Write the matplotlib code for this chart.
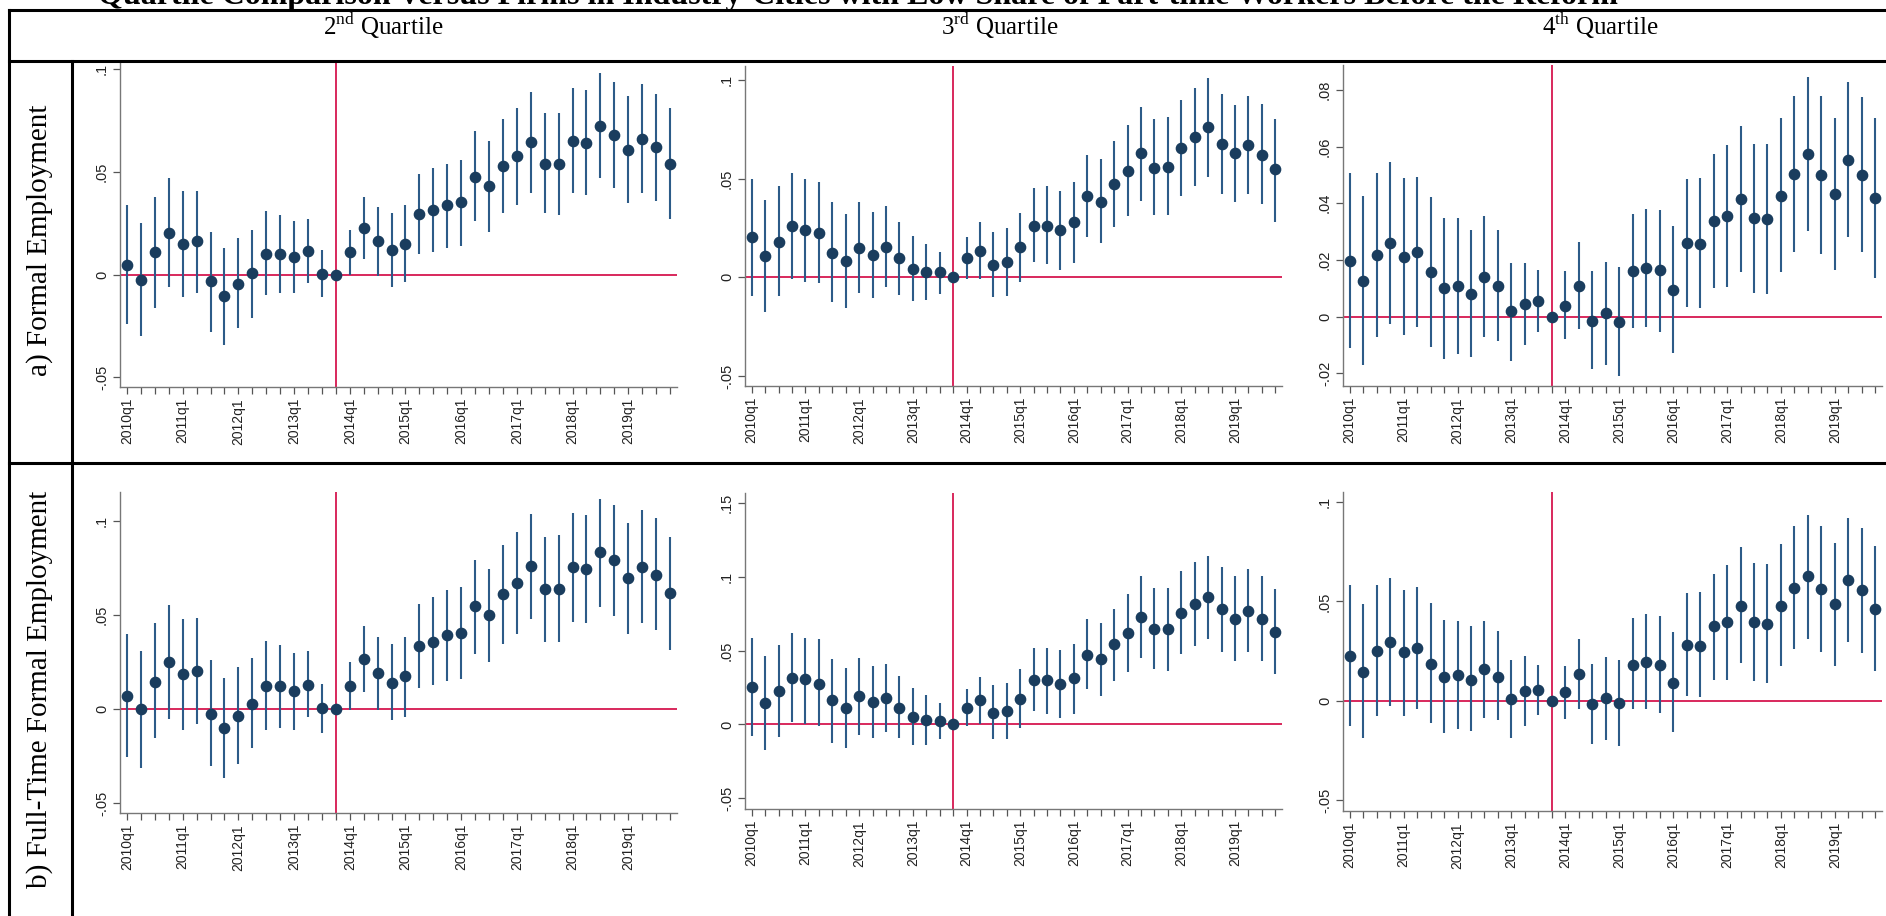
# event-study grid: quartile comparison, formal / full-time formal employment
import matplotlib
matplotlib.use('Agg')
import matplotlib.pyplot as plt
from matplotlib.lines import Line2D

plt.rcParams['font.family'] = ['Liberation Sans', 'DejaVu Sans']
plt.rcParams['mathtext.fontset'] = 'custom'
plt.rcParams['mathtext.rm'] = 'Liberation Serif'

# quarters 2010q1 .. 2019q4, reform reference quarter 2013q4 (index 15)
years = [2010, 2011, 2012, 2013, 2014, 2015, 2016, 2017, 2018, 2019]
quarters = [f'{y}q{q}' for y in years for q in (1, 2, 3, 4)]
ref_idx = 15

col_headers = ['2$^{\\mathrm{nd}}$ Quartile', '3$^{\\mathrm{rd}}$ Quartile', '4$^{\\mathrm{th}}$ Quartile']
row_labels = ['a) Formal Employment', 'b) Full-Time Formal Employment']
title = ('Quartile Comparison Versus Firms in Industry-Cities with Low Share '
         'of Part-time Workers Before the Reform')

# a) formal employment, 2nd quartile
fe_q2_b = [0.0049, -0.0024, 0.0110, 0.0203, 0.0149, 0.0162, -0.0032, -0.0106, -0.0044, 0.0006,
           0.0101, 0.0101, 0.0086, 0.0115, 0.0003, 0.0, 0.0110, 0.0227, 0.0162, 0.0119,
           0.0151, 0.0297, 0.0313, 0.0338, 0.0354, 0.0476, 0.0434, 0.0531, 0.0576, 0.0644,
           0.0539, 0.0539, 0.0649, 0.0641, 0.0724, 0.0682, 0.0609, 0.0662, 0.0622, 0.0539]
fe_q2_hi = [0.034, 0.025, 0.038, 0.047, 0.041, 0.041, 0.021, 0.013, 0.018, 0.022,
            0.031, 0.029, 0.026, 0.027, 0.012, 0.0, 0.022, 0.038, 0.033, 0.030,
            0.034, 0.049, 0.052, 0.054, 0.056, 0.070, 0.065, 0.076, 0.081, 0.089,
            0.079, 0.079, 0.091, 0.090, 0.098, 0.094, 0.087, 0.093, 0.088, 0.081]
fe_q2_lo = [-0.024, -0.030, -0.016, -0.006, -0.011, -0.009, -0.028, -0.034, -0.026, -0.021,
            -0.010, -0.009, -0.009, -0.004, -0.011, 0.0, -0.0003, 0.0076, -0.0008, -0.006,
            -0.0036, 0.010, 0.011, 0.013, 0.014, 0.026, 0.021, 0.030, 0.034, 0.040,
            0.030, 0.029, 0.040, 0.039, 0.047, 0.042, 0.035, 0.040, 0.036, 0.027]

# a) formal employment, 3rd quartile
fe_q3_b = [0.0203, 0.0107, 0.018, 0.026, 0.024, 0.0225, 0.0124, 0.0081, 0.015, 0.0112,
           0.0154, 0.0095, 0.0044, 0.0025, 0.0025, 0.0, 0.0098, 0.0135, 0.0061, 0.0078,
           0.0152, 0.026, 0.026, 0.024, 0.028, 0.041, 0.038, 0.047, 0.054, 0.063,
           0.0555, 0.0559, 0.0657, 0.071, 0.076, 0.0677, 0.063, 0.067, 0.062, 0.0547]
fe_q3_hi = [0.050, 0.039, 0.046, 0.053, 0.050, 0.048, 0.038, 0.032, 0.038, 0.033,
            0.036, 0.028, 0.021, 0.017, 0.0129, 0.0, 0.0205, 0.028, 0.023, 0.025,
            0.0327, 0.045, 0.046, 0.0437, 0.048, 0.062, 0.060, 0.069, 0.077, 0.086,
            0.080, 0.081, 0.090, 0.096, 0.101, 0.093, 0.087, 0.092, 0.088, 0.080]
fe_q3_lo = [-0.0093, -0.0178, -0.0097, -0.0008, -0.0025, -0.003, -0.0127, -0.0156, -0.008, -0.0105,
            -0.0051, -0.0091, -0.0122, -0.0117, -0.0083, 0.0, -0.0008, -0.0008, -0.010, -0.0093,
            -0.0024, 0.0078, 0.0069, 0.0039, 0.0073, 0.0203, 0.0174, 0.0256, 0.031, 0.0386,
            0.0315, 0.0315, 0.041, 0.046, 0.051, 0.042, 0.038, 0.042, 0.037, 0.028]

# a) formal employment, 4th quartile
fe_q4_b = [0.0196, 0.0126, 0.0218, 0.0261, 0.0209, 0.0229, 0.0156, 0.0100, 0.0109, 0.0080,
           0.0141, 0.0109, 0.0018, 0.0045, 0.0056, 0.0, 0.0039, 0.0109, -0.0014, 0.0012,
           -0.0018, 0.0161, 0.0171, 0.0165, 0.0094, 0.0261, 0.0256, 0.0338, 0.0355, 0.0415,
           0.0347, 0.0343, 0.0427, 0.0503, 0.0574, 0.0501, 0.0433, 0.0553, 0.0500, 0.0418]
fe_q4_hi = [0.0506, 0.0424, 0.0508, 0.0547, 0.0488, 0.0494, 0.0421, 0.0349, 0.0347, 0.0306,
            0.0356, 0.0306, 0.0188, 0.0188, 0.0165, 0.0, 0.0161, 0.0262, 0.0162, 0.0192,
            0.0176, 0.0362, 0.0379, 0.0376, 0.0318, 0.0486, 0.0488, 0.0574, 0.0606, 0.0673,
            0.0609, 0.0609, 0.0700, 0.0779, 0.0847, 0.0780, 0.0702, 0.0829, 0.0774, 0.0700]
fe_q4_lo = [-0.0112, -0.0171, -0.0071, -0.0026, -0.0065, -0.0038, -0.0108, -0.0151, -0.0132, -0.0143,
            -0.0073, -0.0085, -0.0155, -0.0102, -0.0053, 0.0, -0.0079, -0.0044, -0.0186, -0.0171,
            -0.0209, -0.0039, -0.0035, -0.0053, -0.0127, 0.0035, 0.0032, 0.0100, 0.0106, 0.0159,
            0.0085, 0.0079, 0.0159, 0.0229, 0.0303, 0.0221, 0.0165, 0.0280, 0.0227, 0.0135]

# b) full-time formal employment, 2nd quartile
ft_q2_b = [0.0069, 0.0, 0.0144, 0.0252, 0.0186, 0.0202, -0.0027, -0.0103, -0.0037, 0.0027,
           0.0124, 0.0124, 0.0098, 0.0131, 0.0004, 0.0, 0.0122, 0.0266, 0.0193, 0.014,
           0.0176, 0.0337, 0.0358, 0.0394, 0.0406, 0.0548, 0.05, 0.0615, 0.0674, 0.0762,
           0.0638, 0.0642, 0.0757, 0.0745, 0.0837, 0.0793, 0.0699, 0.0757, 0.0716, 0.0619]
ft_q2_hi = [0.040, 0.031, 0.0456, 0.0557, 0.0482, 0.0486, 0.0264, 0.0167, 0.0225, 0.0273,
            0.0363, 0.0344, 0.0301, 0.0308, 0.0133, 0.0, 0.0252, 0.0443, 0.0385, 0.0346,
            0.0385, 0.0562, 0.0598, 0.0633, 0.0651, 0.0796, 0.0748, 0.0872, 0.0943, 0.1041,
            0.0917, 0.0926, 0.1044, 0.1032, 0.1121, 0.1085, 0.0993, 0.1059, 0.102, 0.0917]
ft_q2_lo = [-0.0254, -0.0316, -0.0156, -0.005, -0.0112, -0.008, -0.0303, -0.0369, -0.0293, -0.0209,
            -0.0112, -0.0098, -0.0112, -0.0044, -0.0129, 0.0, -0.0005, 0.0092, -0.0005, -0.0059,
            -0.0041, 0.011, 0.0128, 0.0151, 0.0158, 0.0296, 0.0252, 0.0349, 0.0402, 0.0482,
            0.0358, 0.0358, 0.0465, 0.0456, 0.0544, 0.0495, 0.0402, 0.0459, 0.042, 0.0314]

# b) full-time formal employment, 3rd quartile
ft_q3_b = [0.0255, 0.0142, 0.0226, 0.0316, 0.0305, 0.0276, 0.0163, 0.0108, 0.0192, 0.0151,
           0.0176, 0.0113, 0.0052, 0.0029, 0.0023, 0.0, 0.0113, 0.0163, 0.0079, 0.009,
           0.0174, 0.0301, 0.0301, 0.0271, 0.0312, 0.047, 0.0441, 0.0542, 0.0622, 0.0728,
           0.0644, 0.0644, 0.0753, 0.0818, 0.0863, 0.078, 0.0716, 0.0768, 0.0716, 0.0628]
ft_q3_hi = [0.0588, 0.0463, 0.0536, 0.0622, 0.0588, 0.0576, 0.0445, 0.0384, 0.0452, 0.0396,
            0.0407, 0.0328, 0.0249, 0.0197, 0.0147, 0.0, 0.0237, 0.0323, 0.0264, 0.0282,
            0.0377, 0.052, 0.052, 0.0502, 0.0542, 0.0712, 0.0685, 0.0784, 0.0881, 0.1006,
            0.0922, 0.0922, 0.104, 0.11, 0.1141, 0.1069, 0.1006, 0.1051, 0.1006, 0.092]
ft_q3_lo = [-0.0079, -0.0174, -0.0086, 0.0018, 0.0005, -0.0011, -0.0124, -0.0158, -0.0072, -0.009,
            -0.005, -0.0095, -0.0142, -0.0136, -0.0097, 0.0, -0.0011, 0.0, -0.0097, -0.0097,
            -0.0027, 0.009, 0.0068, 0.0045, 0.0072, 0.0237, 0.0192, 0.0294, 0.0357, 0.0452,
            0.0373, 0.0362, 0.0475, 0.0531, 0.0576, 0.049, 0.0429, 0.049, 0.0429, 0.0339]

# b) full-time formal employment, 4th quartile
ft_q4_b = [0.0226, 0.0147, 0.0253, 0.0295, 0.0243, 0.0265, 0.0186, 0.0119, 0.0131, 0.0106,
           0.0161, 0.0122, 0.001, 0.0047, 0.0055, 0.0, 0.0042, 0.0136, -0.0015, 0.0013,
           -0.0012, 0.0181, 0.0193, 0.0181, 0.0092, 0.0282, 0.0278, 0.0374, 0.0395, 0.0478,
           0.0395, 0.0387, 0.0478, 0.0566, 0.0628, 0.0561, 0.0488, 0.0608, 0.0555, 0.0461]
ft_q4_hi = [0.0583, 0.0486, 0.0583, 0.0617, 0.0555, 0.0572, 0.0494, 0.0404, 0.0399, 0.0374,
            0.0402, 0.0349, 0.0206, 0.0223, 0.0181, 0.0, 0.0176, 0.031, 0.0186, 0.022,
            0.0206, 0.0416, 0.0437, 0.0427, 0.0344, 0.0541, 0.0545, 0.0639, 0.0684, 0.0773,
            0.0695, 0.0687, 0.0789, 0.0877, 0.0935, 0.0877, 0.0796, 0.0918, 0.0869, 0.0776]
ft_q4_lo = [-0.0126, -0.0188, -0.0075, -0.0025, -0.0074, -0.0042, -0.0112, -0.0163, -0.0142, -0.0151,
            -0.0087, -0.0096, -0.0188, -0.0126, -0.007, 0.0, -0.0092, -0.0042, -0.0216, -0.0196,
            -0.0226, -0.0042, -0.0042, -0.0059, -0.0159, 0.0025, 0.0017, 0.0106, 0.0106, 0.0189,
            0.0102, 0.0089, 0.0173, 0.0261, 0.031, 0.0245, 0.0176, 0.0298, 0.024, 0.0151]

yticks_fe = [-0.05, 0, 0.05, 0.1]
yticks_fe_q4 = [-0.02, 0, 0.02, 0.04, 0.06, 0.08]
yticks_ft_q3 = [-0.05, 0, 0.05, 0.1, 0.15]


def stata_num(v):
    # Stata style: no leading zero
    s = ('%g' % round(v, 4))
    return s.replace('0.', '.') if v != 0 else '0'


W, H = 1886, 916
fig = plt.figure(figsize=(W / 100, H / 100), dpi=100)

ci_col = '#2c5b88'
dot_col = '#1a3d5e'
red = '#d8285c'

# panels: (b, lo, hi, yticks, ylim, [x0, x1, ytop, ybottom] in pixels)
panels = [
    (fe_q2_b, fe_q2_lo, fe_q2_hi, yticks_fe, (-0.0547, 0.1036), [120, 677, 62, 387]),
    (fe_q3_b, fe_q3_lo, fe_q3_hi, yticks_fe, (-0.0551, 0.107), [745, 1282, 66, 386]),
    (fe_q4_b, fe_q4_lo, fe_q4_hi, yticks_fe_q4, (-0.0245, 0.0888), [1343, 1882, 65, 386]),
    (ft_q2_b, ft_q2_lo, ft_q2_hi, yticks_fe, (-0.0553, 0.1156), [120, 677, 492, 813]),
    (ft_q3_b, ft_q3_lo, ft_q3_hi, yticks_ft_q3, (-0.0573, 0.1568), [745, 1282, 493, 809]),
    (ft_q4_b, ft_q4_lo, ft_q4_hi, yticks_fe, (-0.0554, 0.105), [1343, 1882, 492, 811]),
]

xs = list(range(len(quarters)))
xlabels = [q if q.endswith('q1') else '' for q in quarters]

for b, lo, hi, yt, yl, (x0, x1, y0, y1) in panels:
    ax = fig.add_axes([x0 / W, 1 - y1 / H, (x1 - x0) / W, (y1 - y0) / H])
    ax.axhline(0, color=red, lw=1.4, zorder=1)
    ax.axvline(ref_idx, color=red, lw=1.4, zorder=1)
    ax.vlines(xs, lo, hi, color=ci_col, lw=1.5, zorder=2)
    ax.plot(xs, b, 'o', ms=7.4, color=dot_col, zorder=3)
    ax.set_xlim(-0.5, 39.5)
    ax.set_ylim(*yl)
    ax.set_xticks(xs)
    ax.set_xticklabels(xlabels, rotation=90, fontsize=10, color='#222222')
    ax.set_yticks(yt)
    ax.set_yticklabels([stata_num(v) for v in yt], rotation=90, va='center',
                       fontsize=10.5, color='#222222')
    for s in ('top', 'right'):
        ax.spines[s].set_visible(False)
    for s in ('left', 'bottom'):
        ax.spines[s].set_color('#777777')
        ax.spines[s].set_linewidth(1.0)
    ax.tick_params(length=5, width=0.9, color='#555555', pad=3)
    ax.patch.set_alpha(0)

# table lines
def hline(y, x0=9, x1=W):
    fig.add_artist(Line2D([x0 / W, x1 / W], [1 - y / H, 1 - y / H], color='black', lw=2.2))

def vline(x, y0, y1=H):
    fig.add_artist(Line2D([x / W, x / W], [1 - y0 / H, 1 - y1 / H], color='black', lw=2.2))

hline(9.5)
hline(61)
hline(463)
vline(9, 9.5)
vline(72, 61)

# title (cut by the top edge in the source)
fig.text(858 / W, 1 - 4 / H, title, ha='center', va='baseline', fontsize=23,
         fontweight='bold', family='Liberation Serif')

for xc, txt in zip([383, 1000, 1600], col_headers):
    fig.text(xc / W, 1 - 35 / H, txt, ha='center', va='baseline', fontsize=18,
             family='Liberation Serif')

for yc, txt in zip([240, 689], row_labels):
    fig.text(40 / W, 1 - yc / H, txt, ha='center', va='center', rotation=90,
             fontsize=21, family='Liberation Serif')

fig.savefig('out.png', dpi=100)
